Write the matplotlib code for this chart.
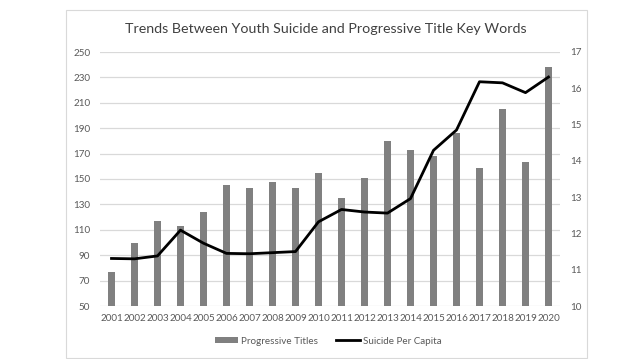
import numpy as np
import matplotlib
matplotlib.use("Agg")
from matplotlib import pyplot as plt
from matplotlib.patches import Rectangle

plt.rcParams['font.family'] = ['Lato', 'DejaVu Sans']

years = [str(y) for y in range(2001, 2021)]
titles = [77, 100, 117, 113, 124, 145, 143, 148, 143, 155,
          135, 151, 180, 173, 168, 186, 159, 205, 163, 238]
suicide = [11.31, 11.30, 11.38, 12.09, 11.73, 11.45, 11.44, 11.47, 11.50, 12.32,
           12.66, 12.59, 12.56, 12.96, 14.29, 14.85, 16.18, 16.15, 15.88, 16.31]

text_col = '#595959'
grid_col = '#d9d9d9'

fig = plt.figure(figsize=(6.39, 3.59), dpi=100)

# outer chart border
fig.patches.append(Rectangle((66 / 639, 1 - 358 / 359), 521 / 639, 348 / 359,
                             transform=fig.transFigure, fill=False,
                             edgecolor='#d9d9d9', linewidth=0.8))

ax = fig.add_axes([100 / 639, 1 - 306 / 359, 460 / 639, 254 / 359])
x = np.arange(len(years))
ax.bar(x, titles, width=0.32, color='#808080', zorder=2, label='Progressive Titles')
ax.set_ylim(50, 250)
ax.set_yticks(range(50, 251, 20))
ax.set_xlim(-0.5, len(years) - 0.5)
ax.set_xticks(x)
ax.set_xticklabels(years)
ax.yaxis.grid(True, color=grid_col, linewidth=0.9, zorder=0)
ax.set_axisbelow(True)
for s in ax.spines.values():
    s.set_visible(False)
ax.tick_params(length=0, labelsize=7.1, colors=text_col, pad=6)
ax.tick_params(axis='y', pad=7)

ax2 = ax.twinx()
ax2.plot(x, suicide, color='black', linewidth=2, zorder=3, label='Suicide Per Capita')
ax2.set_ylim(10, 17)
ax2.set_yticks(range(10, 18))
for s in ax2.spines.values():
    s.set_visible(False)
ax2.tick_params(length=0, labelsize=7.1, colors=text_col, pad=7)

fig.text(326 / 639, 1 - 29 / 359, 'Trends Between Youth Suicide and Progressive Title Key Words',
         ha='center', va='center', fontsize=10.3, color='#404040')

h1, l1 = ax.get_legend_handles_labels()
h2, l2 = ax2.get_legend_handles_labels()
fig.legend(h1 + h2, l1 + l2, loc='center', bbox_to_anchor=(328 / 639, 1 - 341 / 359),
           ncol=2, frameon=False, fontsize=7.1, labelcolor=text_col,
           handlelength=2.4, handleheight=0.5, columnspacing=1.8, handletextpad=0.3)

fig.savefig('out.png', dpi=100)
